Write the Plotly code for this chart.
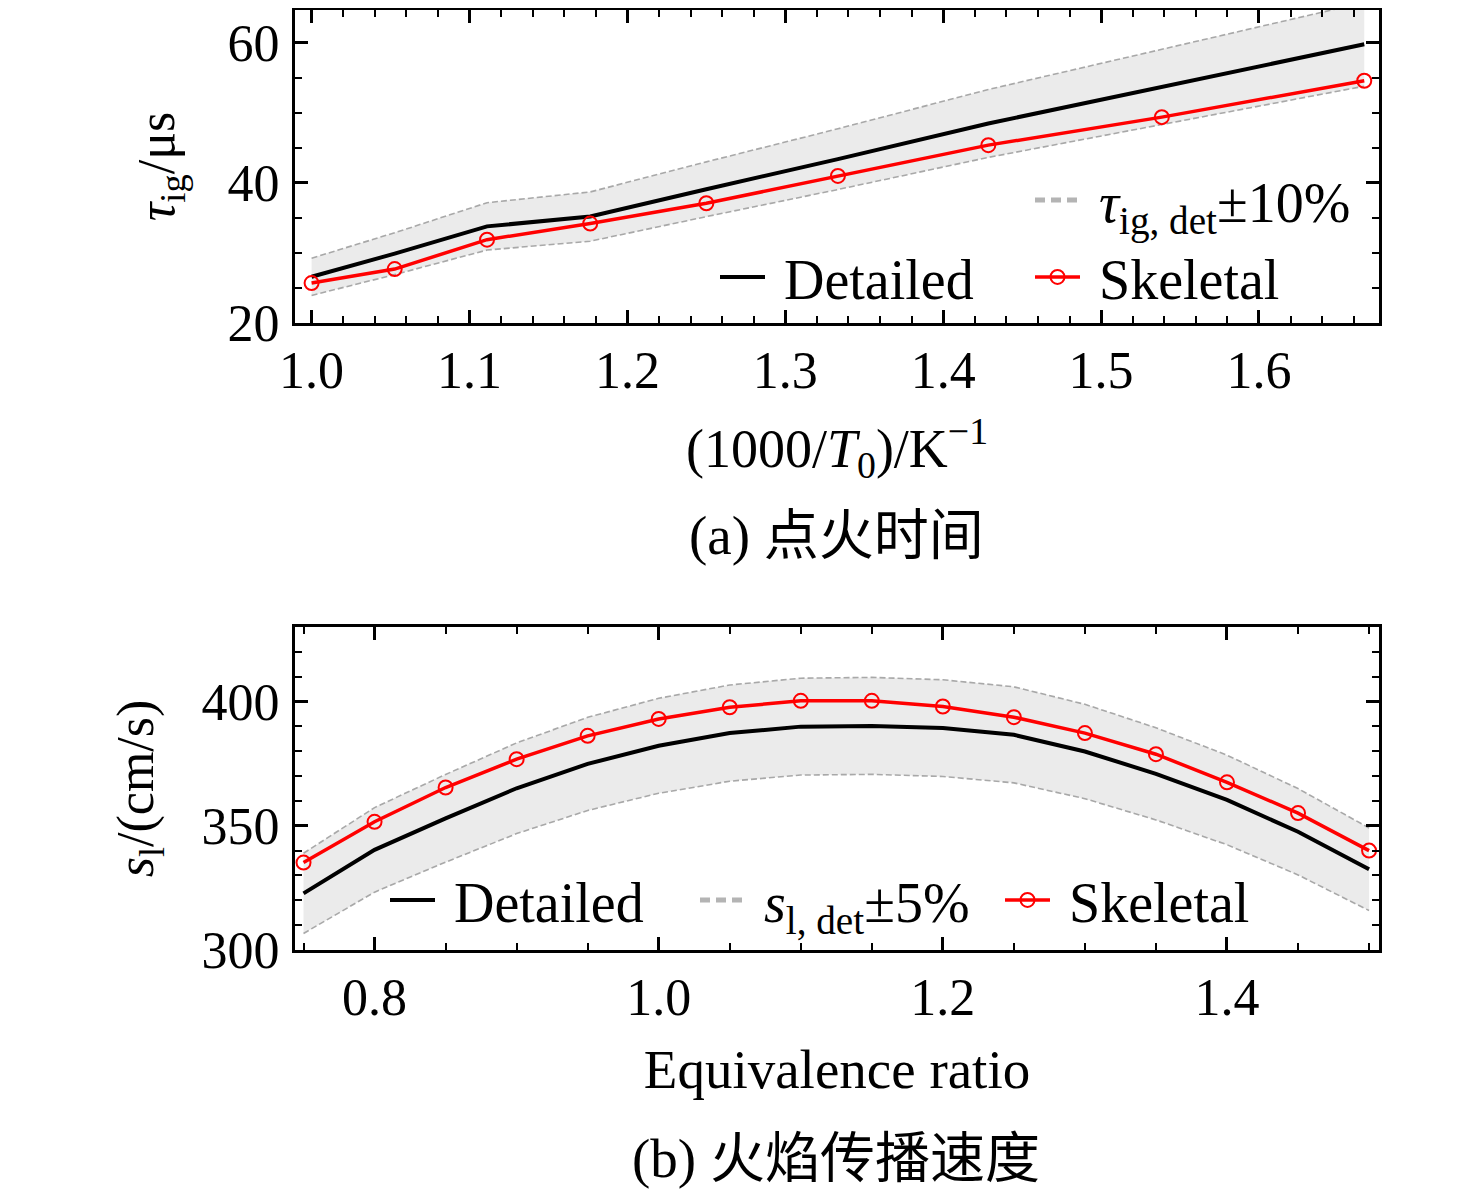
import plotly.graph_objects as go

# ---------------- data ----------------
# (a) ignition delay time
inv_T = [1000/1000, 1000/950, 1000/900, 1000/850, 1000/800, 1000/750, 1000/700, 1000/650, 1000/600]
tau_detailed = [26.6, 29.9, 33.8, 35.2, 39.1, 43.4, 48.5, 53.7, 59.8]
tau_skeletal = [25.7, 27.7, 31.9, 34.2, 37.1, 41.0, 45.4, 49.4, 54.6]
tau_band = 0.10

# (b) laminar flame speed
phi = [0.75, 0.80, 0.85, 0.90, 0.95, 1.00, 1.05, 1.10, 1.15, 1.20, 1.25, 1.30, 1.35, 1.40, 1.45, 1.50]
sl_detailed = [322.8, 340.3, 353.0, 365.1, 374.9, 382.2, 387.3, 389.9, 390.2, 389.3, 386.6, 379.9, 370.9, 360.4, 347.6, 332.5]
sl_skeletal = [335.2, 351.6, 365.4, 376.8, 386.2, 393.0, 397.7, 400.3, 400.3, 398.0, 393.7, 387.3, 378.8, 367.5, 355.1, 340.0]
sl_band = 0.05

FONT = "Times New Roman, Liberation Serif, Noto Sans CJK SC, serif"
BAND_FILL = "#ebebeb"
BAND_LINE = "rgba(160,160,160,0.9)"
SP = "\u00a0"

W, H = 1476, 1194
OFF = 8  # page body margin
def px_x(p):
    return min(1.0, max(0.0, (p - OFF) / W))
def px_y(p):
    return min(1.0, max(0.0, 1 - (p - OFF) / H))

fig = go.Figure()

def add_panel(x, det, ske, frac, xa, ya, lg_det, lg_band, lg_ske, band_name):
    lo = [v * (1 - frac) for v in det]
    hi = [v * (1 + frac) for v in det]
    fig.add_trace(go.Scatter(x=x, y=lo, mode="lines", line=dict(width=0, color=BAND_FILL),
                             showlegend=False, hoverinfo="skip", xaxis=xa, yaxis=ya))
    fig.add_trace(go.Scatter(x=x, y=hi, mode="lines", line=dict(width=0, color=BAND_FILL),
                             fill="tonexty", fillcolor=BAND_FILL,
                             showlegend=False, hoverinfo="skip", xaxis=xa, yaxis=ya))
    for b in (hi, lo):
        fig.add_trace(go.Scatter(x=x, y=b, mode="lines", showlegend=False,
                                 line=dict(width=1.6, color=BAND_LINE, dash="6px,3px"),
                                 xaxis=xa, yaxis=ya))
    # legend-only entry for the band
    fig.add_trace(go.Scatter(x=[None], y=[None], mode="lines", name=SP + band_name,
                             line=dict(width=5, color="#b4b4b4", dash="10px,6px"),
                             legend=lg_band, xaxis=xa, yaxis=ya))
    fig.add_trace(go.Scatter(x=x, y=det, mode="lines", name=SP + "Detailed",
                             line=dict(width=4, color="black"),
                             legend=lg_det, xaxis=xa, yaxis=ya))
    fig.add_trace(go.Scatter(x=x, y=ske, mode="lines+markers", name=SP + "Skeletal",
                             line=dict(width=3.5, color="red"),
                             marker=dict(symbol="circle-open", size=14, color="red",
                                         line=dict(width=2, color="red")),
                             legend=lg_ske, xaxis=xa, yaxis=ya))

add_panel(inv_T, tau_detailed, tau_skeletal, tau_band, "x", "y",
          "legend", "legend2", "legend3", "<i>τ</i><sub>ig, det</sub>±10%")
add_panel(phi, sl_detailed, sl_skeletal, sl_band, "x2", "y2",
          "legend4", "legend5", "legend6", "<i>s</i><sub>l, det</sub>±5%")

axis_common = dict(showline=True, linecolor="black", linewidth=3, mirror="ticks",
                   ticks="inside", ticklen=13, tickwidth=2.5, tickcolor="black",
                   showgrid=False, zeroline=False, automargin=False,
                   tickfont=dict(family=FONT, size=52, color="black"))

fig.update_layout(
    width=W, height=H, margin=dict(l=0, r=0, t=0, b=0, autoexpand=False),
    paper_bgcolor="white", plot_bgcolor="white",
    font=dict(family=FONT, size=52, color="black"),
    xaxis=dict(**axis_common, domain=[px_x(295), px_x(1379)], anchor="y",
               range=[0.9895, 1.676], dtick=0.1, tick0=1.0, tickformat=".1f",
               minor=dict(dtick=0.02, tick0=1.0, ticks="inside", ticklen=7, tickwidth=2, tickcolor="black"),
               title=dict(text="(1000/<i>T</i><sub>0</sub>)/K<sup>−1</sup>", standoff=31,
                          font=dict(family=FONT, size=54))),
    yaxis=dict(**axis_common, domain=[px_y(323), px_y(10)], anchor="x",
               range=[20, 64.7], dtick=20, tick0=20,
               minor=dict(dtick=5, tick0=20, ticks="inside", ticklen=7, tickwidth=2, tickcolor="black"),
               ticklabelstandoff=2,
               title=dict(text="<i>τ</i><sub>ig</sub>/μs", standoff=37,
                          font=dict(family=FONT, size=52))),
    xaxis2=dict(**axis_common, domain=[px_x(295), px_x(1379)], anchor="y2",
                range=[0.744, 1.507], dtick=0.2, tick0=0.8, tickformat=".1f",
                minor=dict(dtick=0.05, tick0=0.75, ticks="inside", ticklen=7, tickwidth=2, tickcolor="black"),
                title=dict(text="Equivalence ratio", standoff=25,
                           font=dict(family=FONT, size=55))),
    yaxis2=dict(**axis_common, domain=[px_y(950), px_y(627)], anchor="x2",
                range=[300, 430], dtick=50, tick0=300,
                minor=dict(dtick=10, tick0=300, ticks="inside", ticklen=7, tickwidth=2, tickcolor="black"),
                ticklabelstandoff=2,
                title=dict(text="<i>s</i><sub>l</sub>/(cm/s)", standoff=32,
                           font=dict(family=FONT, size=52))),
    showlegend=True,
)

leg_common = dict(bgcolor="rgba(0,0,0,0)", borderwidth=0, xanchor="left", yanchor="middle",
                  font=dict(family=FONT, size=56, color="black"), itemwidth=45)
fig.update_layout(
    legend=dict(**leg_common, x=px_x(715), y=px_y(277)),
    legend2=dict(**leg_common, x=px_x(1030), y=px_y(200)),
    legend3=dict(**leg_common, x=px_x(1030), y=px_y(277)),
    legend4=dict(**leg_common, x=px_x(385), y=px_y(900)),
    legend5=dict(**leg_common, x=px_x(695), y=px_y(900)),
    legend6=dict(**leg_common, x=px_x(1000), y=px_y(900)),
)

fig.add_annotation(text="(a) 点火时间", x=px_x(836), y=px_y(535), xref="paper", yref="paper",
                   xanchor="center", yanchor="middle",
                   showarrow=False, font=dict(family=FONT, size=55, color="black"))
fig.add_annotation(text="(b) 火焰传播速度", x=px_x(836), y=px_y(1158), xref="paper", yref="paper",
                   xanchor="center", yanchor="middle",
                   showarrow=False, font=dict(family=FONT, size=55, color="black"))

fig.write_html("out.html")
